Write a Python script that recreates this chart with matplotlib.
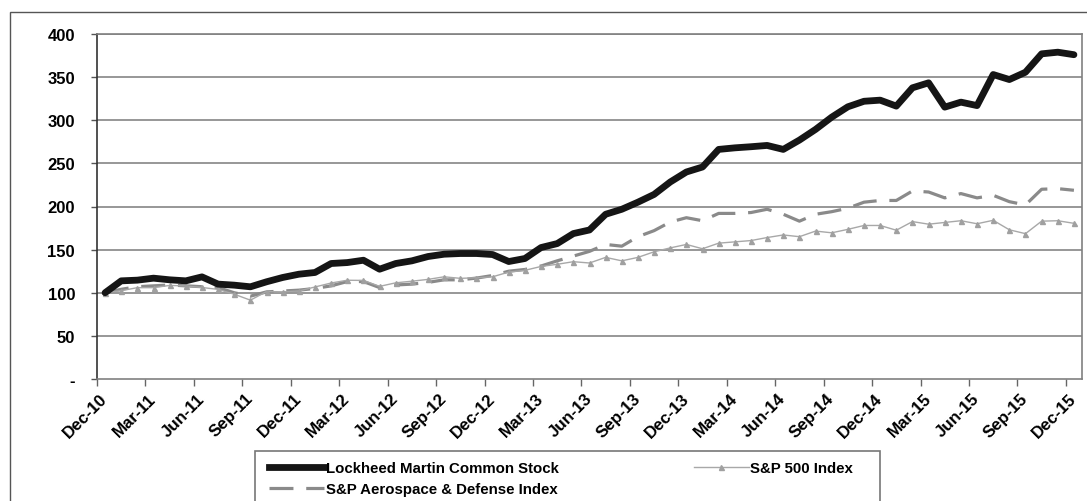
import numpy as np
import matplotlib
matplotlib.use("Agg")
import matplotlib.pyplot as plt
from matplotlib.patches import Rectangle
from matplotlib.lines import Line2D

# ---------------- data ----------------
tick_labels = ["Dec-10", "Mar-11", "Jun-11", "Sep-11", "Dec-11", "Mar-12", "Jun-12",
               "Sep-12", "Dec-12", "Mar-13", "Jun-13", "Sep-13", "Dec-13", "Mar-14",
               "Jun-14", "Sep-14", "Dec-14", "Mar-15", "Jun-15", "Sep-15", "Dec-15"]

lockheed = [100, 113.8, 114.6, 116.9, 115, 113.8, 118.4, 110, 108.8, 106.9,
            112.7, 117.7, 121.5, 123.5, 133.9, 135, 137.7, 127.3, 133.9, 137,
            142, 144.7, 145.5, 145.5, 144.3, 136.2, 139.7, 152.4, 157, 168.6,
            172.8, 191, 196.8, 205, 214, 228.4, 240, 245.8, 266.2, 268,
            269.3, 270.8, 266.2, 277, 289.4, 303.6, 315.6, 322, 323.3, 316.4,
            337.6, 343.4, 315.2, 321, 317, 353, 347.2, 355.7, 377, 378.9, 376]

sp500 = [100, 102.4, 105.9, 105.9, 108.5, 107.9, 106.1, 103.9, 98.3, 91.4,
         101.4, 101.1, 102.1, 106.7, 111.3, 114.5, 114.3, 107.4, 111.5, 113.4,
         115.5, 118.5, 116.7, 117.4, 118.5, 124, 126, 130.5, 133, 136,
         134.5, 141, 137, 141, 147.5, 152, 156, 151, 157.5, 159,
         160.5, 164, 167, 165, 171.5, 169.5, 173.5, 178, 178, 172.5,
         182.5, 179.5, 181.5, 183.5, 180, 184, 173, 168.5, 183, 183.5, 180.5]

aerodef = [100, 104, 107, 108, 109, 108, 107, 106, 100, 96,
           101, 102, 103, 105, 108, 113, 113, 106, 109, 110,
           112, 115, 115, 117, 120, 125, 127, 131, 137, 142.5,
           148, 156, 154, 165, 172, 182, 187, 183.5, 192, 192,
           193, 196.8, 191, 183, 191, 194, 198, 205, 207, 207,
           218, 216.8, 210, 215, 210, 213, 205.6, 201.8, 220, 220.7, 218.8]

series_names = ["Lockheed Martin Common Stock", "S&P 500 Index",
                "S&P Aerospace & Defense Index"]

# ---------------- figure ----------------
W, H = 1087, 502
fig = plt.figure(figsize=(W / 100, H / 100), dpi=100)
fig.patch.set_facecolor("white")

def fx(px):
    return px / W

def fy(py):
    return 1 - py / H

# outer frame
fig.patches.append(Rectangle((fx(10), fy(530)), fx(1095) - fx(10), fy(13) - fy(530),
                             transform=fig.transFigure, fill=False,
                             edgecolor="#555555", linewidth=1.0, zorder=0))

ax = fig.add_axes([fx(97), fy(380), fx(1082) - fx(97), fy(35) - fy(380)])
x = np.arange(len(lockheed))

grid_color = "#8f8f8f"
for v in range(50, 401, 50):
    ax.axhline(v, color=grid_color, linewidth=1.3, zorder=1)

ax.plot(x, aerodef, color="#8a8a8a", linewidth=2.3, dashes=(7.5, 4),
        solid_capstyle="butt", zorder=3)
ax.plot(x, sp500, color="#a8a8a8", linewidth=1.0, marker="^",
        markersize=3.6, markerfacecolor="#a0a0a0", markeredgecolor="#a0a0a0",
        zorder=4)
ax.plot(x, lockheed, color="#151515", linewidth=4.9, solid_capstyle="round",
        solid_joinstyle="round", zorder=5)

ax.set_xlim(-0.5, 60.5)
ax.set_ylim(0, 400)

# y axis
ax.set_yticks(range(0, 401, 50))
ax.set_yticklabels(["-"] + [str(v) for v in range(50, 401, 50)],
                   fontsize=12, fontweight="bold", family="Liberation Sans")
ax.tick_params(axis="y", direction="out", length=4.3, width=1, color="#555555",
               pad=11.5)

# x axis: labels at category centres, tick marks at category boundaries
ax.set_xticks(np.arange(0, 61, 3))
ax.set_xticklabels(tick_labels, rotation=45, ha="right", va="center",
                   rotation_mode="anchor", fontsize=12.2, fontweight="bold",
                   family="Liberation Sans")
ax.tick_params(axis="x", which="major", length=0, pad=12)
ax.set_xticks(np.arange(-0.5, 61, 3), minor=True)
ax.tick_params(axis="x", which="minor", direction="out", length=5, width=1,
               color="#666666")

for side in ["top", "right", "bottom"]:
    ax.spines[side].set_color("#808080")
    ax.spines[side].set_linewidth(1.2)
ax.spines["left"].set_color("#333333")
ax.spines["left"].set_linewidth(1.2)

# ---------------- legend ----------------
fig.patches.append(Rectangle((fx(255), fy(530)), fx(880) - fx(255), fy(452) - fy(530),
                             transform=fig.transFigure, fill=False,
                             edgecolor="#777777", linewidth=1.2, zorder=0))

h_lm = Line2D([], [], color="#151515", linewidth=4.9)
h_sp = Line2D([], [], color="#a8a8a8", linewidth=1.0, marker="^", markersize=3.6,
              markerfacecolor="#a0a0a0", markeredgecolor="#a0a0a0")
h_ad = Line2D([], [], color="#8a8a8a", linewidth=2.3, dashes=(7.5, 4))

leg_font = {"family": "Liberation Sans", "weight": "bold", "size": 10.8}
leg1 = fig.legend([h_lm, h_ad], [series_names[0], series_names[2]],
                  loc="upper left", bbox_to_anchor=(fx(258), fy(452)),
                  frameon=False, prop=leg_font, handlelength=3.7,
                  handletextpad=0.1, labelspacing=0.45, borderpad=0.2)
leg2 = fig.legend([h_sp], [series_names[1]],
                  loc="upper left", bbox_to_anchor=(fx(683), fy(452)),
                  frameon=False, prop=leg_font, handlelength=3.7,
                  handletextpad=0.1, borderpad=0.2)

fig.savefig("out.png", dpi=100)
